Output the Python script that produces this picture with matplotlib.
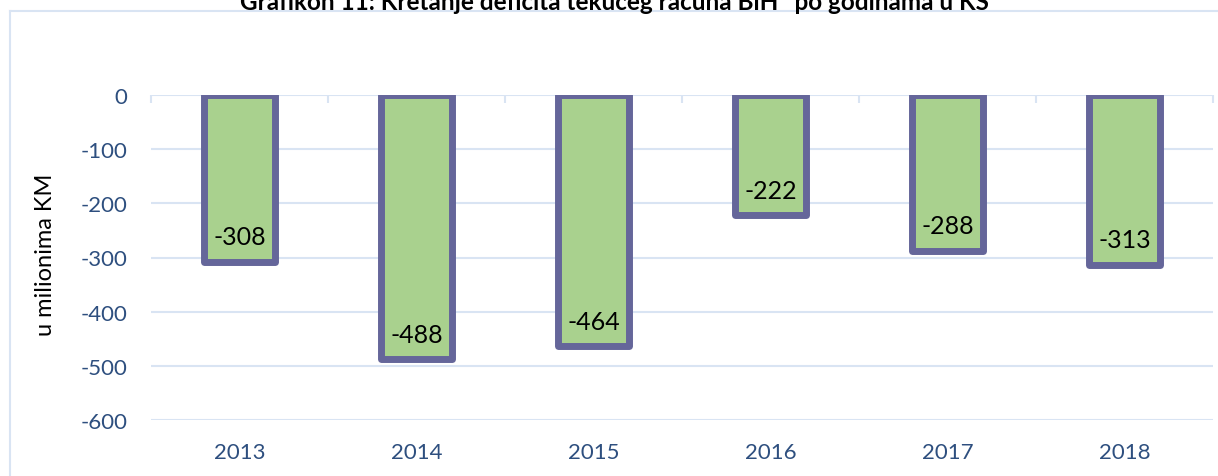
import matplotlib
matplotlib.use("Agg")
from matplotlib import pyplot as plt
from matplotlib.lines import Line2D
import numpy as np

years = ['2013', '2014', '2015', '2016', '2017', '2018']
deficit = [-308, -488, -464, -222, -288, -313]
y_ticks = [0, -100, -200, -300, -400, -500, -600]

title = 'Grafikon 11: Kretanje deficita tekućeg računa BiH* po godinama u KS'
ylabel = 'u milionima KM'

plt.rcParams['font.family'] = ['Lato', 'DejaVu Sans']

fill_col = '#a9d18e'
edge_col = '#65669a'
grid_col = '#d9e4f3'
tick_col = '#2e4f7f'

fig = plt.figure(figsize=(12.18, 4.77), dpi=100)
ax = fig.add_axes([151/1218, 1 - 421/477, 1062/1218, 325/477])

x = np.arange(len(years))
bars = ax.bar(x, deficit, width=0.40, color=fill_col, edgecolor=edge_col,
              linewidth=5, joinstyle='round', zorder=2)

for xi, v in zip(x, deficit):
    ax.annotate(f'{v}', (xi, v), xytext=(0, 18), textcoords='offset points',
                ha='center', va='center', fontsize=18, color='black', zorder=3)

ax.set_xlim(-0.5, len(years) - 0.5)
ax.set_ylim(-600, 0)
ax.set_yticks(y_ticks)
ax.set_yticklabels([str(t) for t in y_ticks])
ax.set_xticks(x)
ax.set_xticklabels(years)
ax.set_xticks(np.arange(-0.5, len(years)), minor=True)

ax.yaxis.grid(True, color=grid_col, linewidth=1.5)
ax.set_axisbelow(True)
for s in ax.spines.values():
    s.set_visible(False)

ax.tick_params(axis='y', length=0, pad=17, labelsize=16, labelcolor=tick_col)
ax.tick_params(axis='x', which='major', bottom=False, top=True, direction='in',
               length=4, width=1, color='white', pad=16, labelsize=16, labelcolor=tick_col)
ax.tick_params(axis='x', which='minor', bottom=False, top=True, direction='in',
               length=6, width=1.5, color=grid_col)

fig.text(45/1218, 1 - 255/477, ylabel, rotation=90, ha='center', va='center',
         fontsize=17, color='black')
# title sits partly above the top edge, as in the source image
fig.text(614/1218, 1 - 10/477, title, ha='center', va='baseline',
         fontsize=17.5, fontweight='bold', color='black')

# frame of the chart area
fig.add_artist(Line2D([10/1218, 10/1218], [0, 1 - 12/477], color=grid_col, lw=1.5))
fig.add_artist(Line2D([10/1218, 1217/1218], [1 - 12/477, 1 - 12/477], color=grid_col, lw=1.5))

fig.savefig('out.png', dpi=100)
